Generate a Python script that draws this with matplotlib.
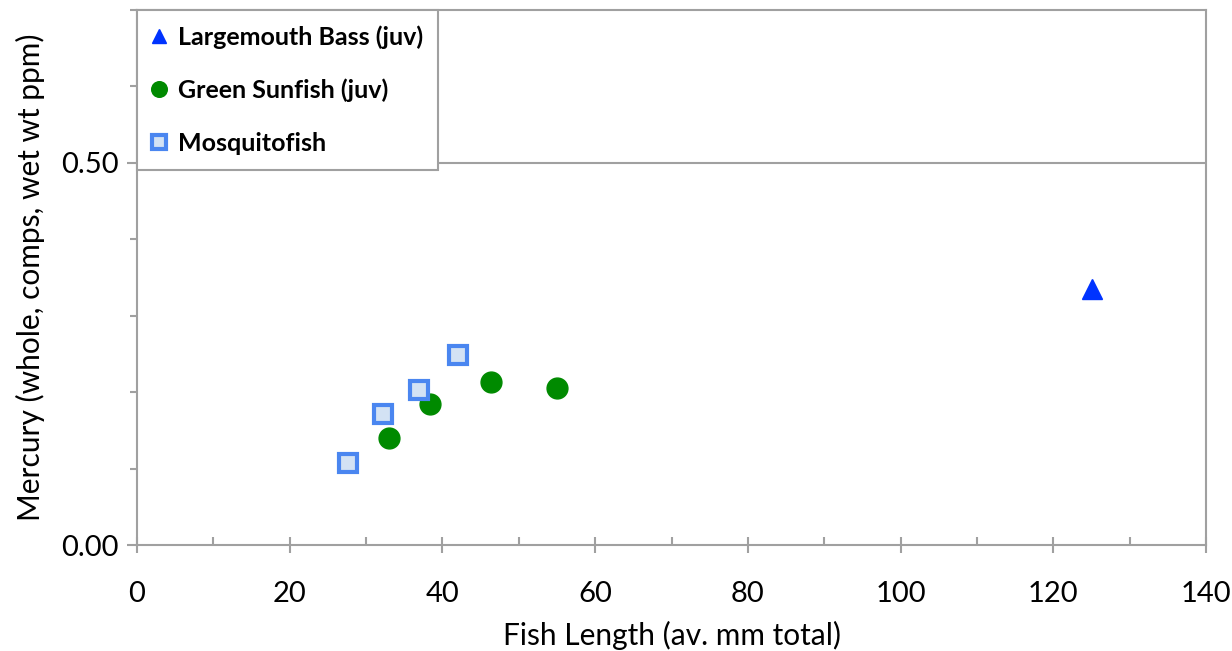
import matplotlib.pyplot as plt
from matplotlib.ticker import MultipleLocator

plt.rcParams['font.family'] = ['Lato', 'DejaVu Sans']

# data
bass_x = [125.1]
bass_y = [0.335]

sunfish_x = [33.0, 38.4, 46.4, 55.0]
sunfish_y = [0.140, 0.185, 0.213, 0.205]

mosq_x = [27.6, 32.2, 36.9, 42.0]
mosq_y = [0.107, 0.171, 0.203, 0.249]

grey = '#a0a0a0'

fig = plt.figure(figsize=(12.32, 6.51), dpi=100)
ax = fig.add_axes([0.1112, 0.1628, 0.8677, 0.8218])

ax.plot(bass_x, bass_y, ls='none', marker='^', ms=14, color='#0033ff',
        mec='#0033ff', label='Largemouth Bass (juv)', zorder=3)
ax.plot(sunfish_x, sunfish_y, ls='none', marker='o', ms=15, color='#008a00',
        mec='#008a00', label='Green Sunfish (juv)', zorder=3)
ax.plot(mosq_x, mosq_y, ls='none', marker='s', ms=13, mfc='#d3e2f4',
        mec='#4a86f0', mew=3, label='Mosquitofish', zorder=3)

ax.set_xlim(0, 140)
ax.set_ylim(0, 0.70)
ax.xaxis.set_major_locator(MultipleLocator(20))
ax.xaxis.set_minor_locator(MultipleLocator(10))
ax.yaxis.set_major_locator(MultipleLocator(0.5))
ax.yaxis.set_minor_locator(MultipleLocator(0.1))
ax.yaxis.set_major_formatter(lambda v, p: f'{v:.2f}')

ax.axhline(0.5, color=grey, lw=1.5, zorder=1)

for s in ax.spines.values():
    s.set_color(grey)
    s.set_linewidth(1.5)

ax.tick_params(axis='x', which='major', direction='inout', length=12, width=1.5,
               color=grey, labelsize=21, pad=20)
ax.tick_params(axis='x', which='minor', direction='in', length=6, width=1.5, color=grey)
ax.tick_params(axis='y', which='major', direction='out', length=7, width=1.5,
               color=grey, labelsize=21, pad=6)
ax.tick_params(axis='y', which='minor', direction='out', length=5, width=1.5, color=grey)

ax.set_xlabel('Fish Length (av. mm total)', fontsize=21.5, labelpad=10)
ax.set_ylabel('Mercury (whole, comps, wet wt ppm)', fontsize=21.5, labelpad=12)

leg = ax.legend(loc='upper left', bbox_to_anchor=(0, 1), fancybox=False,
                framealpha=1, edgecolor=grey, markerscale=0.75,
                handlelength=0.6, handletextpad=0.45, labelspacing=1.2,
                borderpad=0.6, borderaxespad=0,
                prop={'weight': 'bold', 'size': 18})
leg.get_frame().set_linewidth(1.5)

fig.savefig('out.png', dpi=100)
